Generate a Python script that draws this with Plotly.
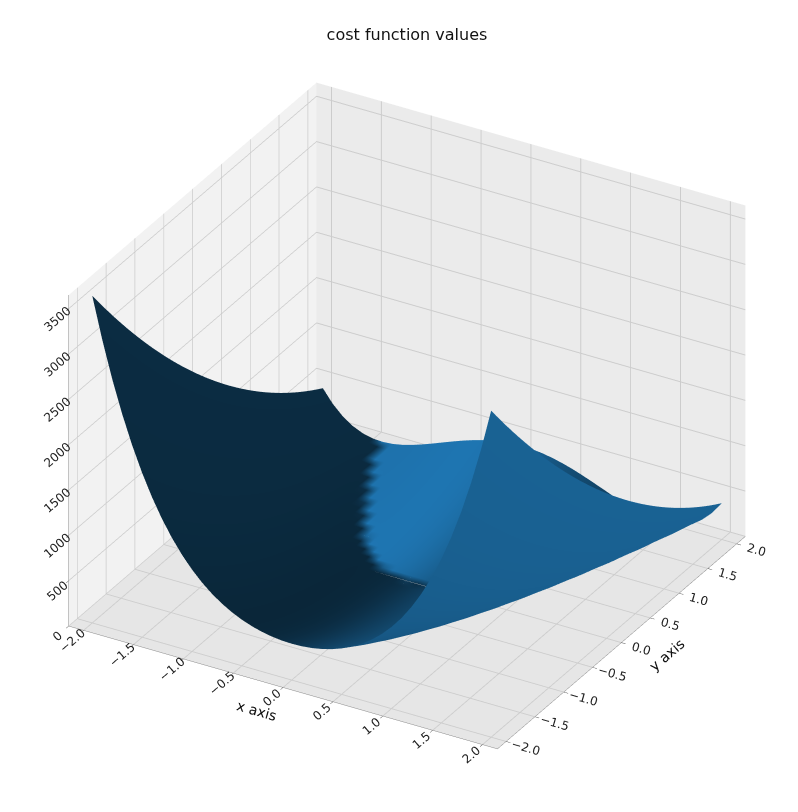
import numpy as np
import plotly.graph_objects as go

# grid of the plotted cost function (Rosenbrock, as in the reference)
x_vals = np.linspace(-2, 2, 41)
y_vals = np.linspace(-2, 2, 41)
X, Y = np.meshgrid(x_vals, y_vals)
Z = (1 - X) ** 2 + 100 * (Y - X ** 2) ** 2

# matplotlib-like shading: normals in data coords, light az=225 alt=19.47
fx = -2 * (1 - X) - 400 * X * (Y - X ** 2)
fy = 200 * (Y - X ** 2)
n = np.stack([-fx, -fy, np.ones_like(Z)])
n = n / np.linalg.norm(n, axis=0)
az, alt = np.radians(90 - 225), np.radians(19.47)
light = np.array([np.cos(az) * np.cos(alt), np.sin(az) * np.cos(alt), np.sin(alt)])
shade = np.tensordot(light, n, axes=1)
factor = 0.3 + 0.7 * (shade + 1) / 2

fig = go.Figure(go.Surface(
    x=X, y=Y, z=Z, surfacecolor=factor, cmin=0.3, cmax=1,
    colorscale=[[0, "rgb(9,36,54)"], [1, "rgb(31,119,180)"]],
    showscale=False,
    lighting=dict(ambient=1, diffuse=0, specular=0, fresnel=0),
))

ax = dict(showbackground=True, gridcolor="#cccccc", zeroline=False,
          linecolor="#888888", ticks="outside", tickfont=dict(size=12, color="#222"))
fig.update_layout(
    width=798, height=812,
    title=dict(text="cost function values", x=0.5, y=0.975, font=dict(size=16, color="#111")),
    font=dict(family="DejaVu Sans", color="#111"),
    paper_bgcolor="white",
    margin=dict(l=10, r=10, t=40, b=10),
    scene=dict(
        xaxis=dict(ax, title="x axis", range=[-2.15, 2.15], dtick=0.5, tickformat=".1f",
                   backgroundcolor="#f2f2f2"),
        yaxis=dict(ax, title="y axis", range=[-2.15, 2.15], dtick=0.5, tickformat=".1f",
                   backgroundcolor="#ebebeb"),
        zaxis=dict(ax, title="", range=[0, 3650], dtick=500, backgroundcolor="#e6e6e6"),
        aspectmode="manual",
        aspectratio=dict(x=1.3, y=1.3, z=1.0),
        camera=dict(eye=dict(x=1.0, y=-1.73, z=1.1), center=dict(x=0, y=0, z=-0.04),
                    projection=dict(type="orthographic")),
    ),
)
fig.write_html("out.html")
